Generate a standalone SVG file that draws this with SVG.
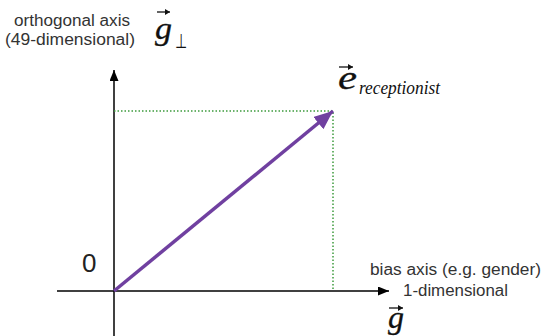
<svg xmlns="http://www.w3.org/2000/svg" width="543" height="336" viewBox="0 0 543 336">
<defs>
<style>
.lbl{font-family:"Liberation Sans",Arial,sans-serif;font-size:16px;fill:#333}
.math{font-family:"Liberation Serif","Times New Roman",serif;font-style:italic;fill:#111}
.big{stroke:#111;stroke-width:0.3}
.axis{stroke:#000;stroke-width:1.5;fill:none}
.dot{stroke:#3c9a3c;stroke-width:1.5;stroke-dasharray:1.5 2;fill:none}
.vec{stroke:#7040a0;stroke-width:3.5;fill:none}
.varr{stroke:#111;stroke-width:1.3;fill:none}
</style>
<marker id="ah" markerUnits="userSpaceOnUse" markerWidth="12" markerHeight="10" refX="11" refY="4.5" orient="auto">
<path d="M0,0 L11,4.5 L0,9 Z" fill="#000"/>
</marker>
<marker id="ph" markerUnits="userSpaceOnUse" markerWidth="20" markerHeight="16" refX="19" refY="8" orient="auto">
<path d="M0,0 L19,8 L0,16 Z" fill="#7040a0"/>
</marker>
<marker id="sh" markerUnits="userSpaceOnUse" markerWidth="6" markerHeight="6" refX="5" refY="3" orient="auto">
<path d="M0,0 L5,3 L0,6 Z" fill="#111"/>
</marker>
</defs>
<g id="connectors">
<line class="axis" x1="57" y1="291" x2="389" y2="291" marker-end="url(#ah)"/>
<line class="axis" x1="114" y1="336" x2="114" y2="70" marker-end="url(#ah)"/>
<polyline class="dot" points="114,111 333,111 333,291"/>
<line class="vec" x1="114" y1="291" x2="333" y2="111" marker-end="url(#ph)"/>
</g>
<g id="orthogonal-label">
<text class="lbl" x="14" y="26" textLength="116" lengthAdjust="spacingAndGlyphs">orthogonal axis</text>
<text class="lbl" x="5" y="45" textLength="130" lengthAdjust="spacingAndGlyphs">(49-dimensional)</text>
</g>
<g id="g-perp">
<line class="varr" x1="157" y1="12" x2="170" y2="12" marker-end="url(#sh)"/>
<text class="math big" x="155" y="39" font-size="32" textLength="17" lengthAdjust="spacingAndGlyphs">g</text>
<text x="175" y="48" font-family="'DejaVu Sans',sans-serif" font-size="20" fill="#111" textLength="12" lengthAdjust="spacingAndGlyphs">⊥</text>
</g>
<g id="e-receptionist">
<line class="varr" x1="339" y1="67" x2="353" y2="67" marker-end="url(#sh)"/>
<text class="math big" x="338" y="89" font-size="34" textLength="19" lengthAdjust="spacingAndGlyphs">e</text>
<text class="math" x="359" y="94" font-size="18" textLength="81" lengthAdjust="spacingAndGlyphs">receptionist</text>
</g>
<g id="origin">
<text x="82" y="272" font-family="'Liberation Sans',Arial,sans-serif" font-size="26" fill="#222">0</text>
</g>
<g id="bias-label">
<text class="lbl" x="370" y="275" textLength="171" lengthAdjust="spacingAndGlyphs">bias axis (e.g. gender)</text>
<text class="lbl" x="403" y="296" textLength="105" lengthAdjust="spacingAndGlyphs">1-dimensional</text>
</g>
<g id="g-vec">
<line class="varr" x1="389" y1="308" x2="403" y2="308" marker-end="url(#sh)"/>
<text class="math big" x="388" y="328" font-size="32" textLength="16" lengthAdjust="spacingAndGlyphs">g</text>
</g>
</svg>
